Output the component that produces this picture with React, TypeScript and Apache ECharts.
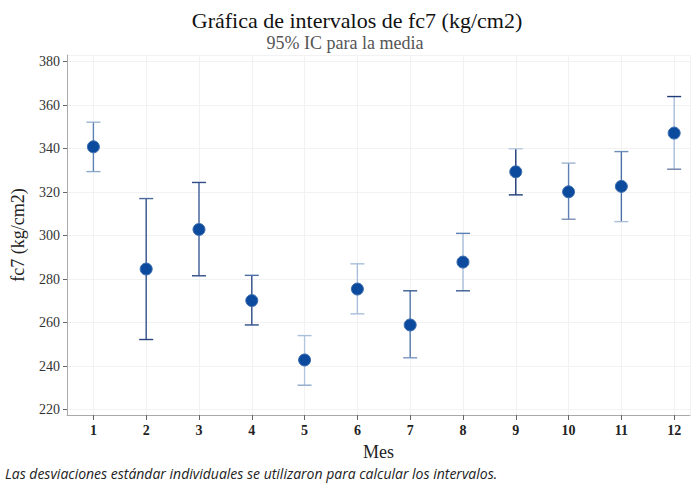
import React, { useEffect, useRef } from "react";
import * as echarts from "echarts";

const months = [1, 2, 3, 4, 5, 6, 7, 8, 9, 10, 11, 12];
const means = [340.8, 284.6, 302.8, 270.1, 242.8, 275.4, 258.9, 287.8, 329.3, 320.1, 322.6, 347.1];
const lower = [329.4, 252.2, 281.5, 258.9, 231.2, 264.0, 243.8, 274.6, 318.7, 307.5, 306.4, 330.5];
const upper = [352.1, 317.0, 324.4, 281.7, 254.0, 287.0, 274.6, 301.0, 339.9, 333.3, 338.6, 363.9];

// style only: [upper cap, stem, lower cap] colours per interval
const barColors: string[][] = [
  ["#9db4d4", "#5a80b6", "#8ea8cc"],
  ["#4d6a9c", "#34508c", "#2b437e"],
  ["#2f4c88", "#3f5f98", "#2f4c88"],
  ["#4d6fa5", "#2f4f8a", "#2f4f8a"],
  ["#a9bedb", "#b3c6df", "#8fa8cb"],
  ["#a9bedb", "#a9bedb", "#a9bedb"],
  ["#3a5c92", "#5576a8", "#7a96c0"],
  ["#5a7fb5", "#a9bedb", "#3a5c92"],
  ["#b8c8e0", "#1e3a78", "#1e3a78"],
  ["#9fb4d2", "#5d80b3", "#7a8fb3"],
  ["#6f8dbb", "#4a6ea6", "#a9bedb"],
  ["#1e3a78", "#a9bedb", "#6b7fa8"],
];

const serif = "'Liberation Serif', 'DejaVu Serif', serif";

export default function App() {
  const ref = useRef<HTMLDivElement>(null);
  useEffect(() => {
    if (!ref.current) return;
    const chart = echarts.init(ref.current, undefined, { renderer: "svg" });
    const intervalData = months.map((m, i) => [m, lower[i], upper[i], i]);
    const pointData = months.map((m, i) => [m, means[i]]);
    chart.setOption({
      animation: false,
      backgroundColor: "#ffffff",
      title: [
        {
          text: "Gráfica de intervalos de fc7 (kg/cm2)",
          left: 352,
          textAlign: "center",
          top: 4,
          textStyle: { fontFamily: serif, fontSize: 22, fontWeight: "normal", color: "#111" },
        },
        {
          text: "95% IC para la media",
          left: 340,
          textAlign: "center",
          top: 29,
          textStyle: { fontFamily: serif, fontSize: 18, fontWeight: "normal", color: "#555" },
        },
      ],
      graphic: [
        {
          type: "text",
          left: 5,
          top: 466,
          style: {
            text: "Las desviaciones estándar individuales se utilizaron para calcular los intervalos.",
            font: "italic 14px 'Open Sans', 'Noto Sans', sans-serif",
            fill: "#222",
          },
        },
        {
          type: "line",
          shape: { x1: 67, y1: 55.5, x2: 691, y2: 55.5 },
          style: { stroke: "#c8c8c8", lineWidth: 1 },
        },
      ],
      grid: { left: 67, right: 1, top: 55, bottom: 72, containLabel: false },
      xAxis: {
        type: "value",
        min: 0.5,
        max: 12.3,
        splitNumber: 12,
        name: "Mes",
        nameLocation: "middle",
        nameGap: 28,
        nameTextStyle: { fontFamily: serif, fontSize: 18, color: "#222" },
        axisLine: { show: true, lineStyle: { color: "#aaa" } },
        axisTick: { show: true, length: 5, lineStyle: { color: "#666" } },
        axisLabel: {
          showMinLabel: false,
          showMaxLabel: false,
          fontFamily: serif,
          fontWeight: "bold",
          fontSize: 14,
          color: "#222",
          margin: 8,
        },
        splitLine: { show: true, lineStyle: { color: "#f2f2f2" } },
      },
      yAxis: {
        type: "value",
        min: 217.5,
        max: 383,
        splitNumber: 8,
        name: "fc7 (kg/cm2)",
        nameLocation: "middle",
        nameGap: 40,
        nameRotate: 90,
        nameTextStyle: { fontFamily: serif, fontSize: 18, color: "#222" },
        axisLine: { show: true, lineStyle: { color: "#aaa" } },
        axisTick: { show: true, length: 4, lineStyle: { color: "#666" } },
        axisLabel: {
          showMinLabel: false,
          showMaxLabel: false,
          fontFamily: serif,
          fontSize: 14,
          color: "#333",
          margin: 7,
        },
        splitLine: { show: true, lineStyle: { color: "#f2f2f2" } },
      },
      series: [
        {
          type: "custom",
          data: intervalData,
          z: 2,
          renderItem: (params: any, api: any) => {
            const x = api.value(0);
            const lo = api.coord([x, api.value(1)]);
            const hi = api.coord([x, api.value(2)]);
            const idx = api.value(3);
            const c = barColors[idx];
            const hw = 7;
            return {
              type: "group",
              children: [
                {
                  type: "line",
                  shape: { x1: hi[0], y1: hi[1], x2: lo[0], y2: lo[1] },
                  style: { stroke: c[1], lineWidth: 1.4 },
                },
                {
                  type: "line",
                  shape: { x1: hi[0] - hw, y1: hi[1], x2: hi[0] + hw, y2: hi[1] },
                  style: { stroke: c[0], lineWidth: 1.4 },
                },
                {
                  type: "line",
                  shape: { x1: lo[0] - hw, y1: lo[1], x2: lo[0] + hw, y2: lo[1] },
                  style: { stroke: c[2], lineWidth: 1.4 },
                },
              ],
            };
          },
        },
        {
          type: "scatter",
          data: pointData,
          z: 3,
          symbol: "circle",
          symbolSize: 12,
          itemStyle: { color: "#0b4a9c", borderColor: "#3d6db0", borderWidth: 1, opacity: 1 },
        },
      ],
    });
    return () => chart.dispose();
  }, []);
  return <div ref={ref} style={{ width: 691, height: 487, position: "absolute", left: 0, top: 0 }} />;
}
